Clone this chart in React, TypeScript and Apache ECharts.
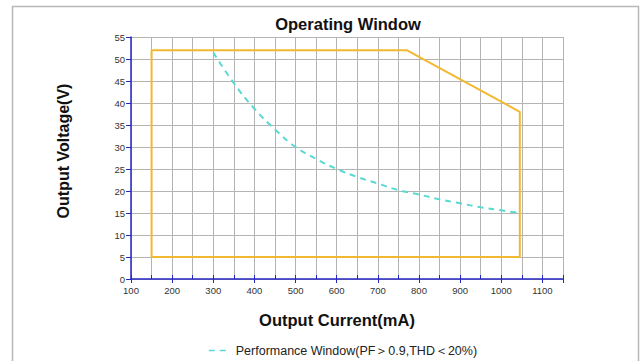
import React, { useEffect, useRef } from "react";
import * as echarts from "echarts";

const windowCurrent = [150, 150, 770, 1045, 1045, 150];
const windowVoltage = [5, 52, 52, 38, 5, 5];

const perfCurrent = [300, 350, 400, 450, 500, 550, 600, 650, 700, 750, 800, 850, 900, 950, 1000, 1045];
const perfVoltage = [51.5, 44.5, 38.7, 34, 30, 27.3, 25, 23.2, 21.7, 20.2, 19.2, 18.1, 17.2, 16.3, 15.6, 15];

const perfName = "Performance Window(PF＞0.9,THD＜20%)";

export default function App() {
  const ref = useRef<HTMLDivElement>(null);
  useEffect(() => {
    const chart = echarts.init(ref.current!, null, { renderer: "svg" });
    const axisBlue = "#2626c4";
    const gridGray = "#b4b4b4";
    const font = "Liberation Sans, Arial, sans-serif";
    chart.setOption({
      animation: false,
      backgroundColor: "#fff",
      textStyle: { fontFamily: font },
      title: {
        text: "Operating Window",
        left: 343,
        top: 10,
        textAlign: "center",
        textStyle: { fontSize: 16.5, fontWeight: "bold", color: "#111", fontFamily: font },
      },
      graphic: [
        {
          type: "rect",
          shape: { x: 12.5, y: 6.5, width: 626, height: 370 },
          style: { fill: "none", stroke: "#b8b8b8", lineWidth: 1.5 },
          silent: true,
          z: -1,
        },
        {
          type: "text",
          x: 63,
          y: 151,
          rotation: Math.PI / 2,
          style: {
            text: "Output Voltage(V)",
            fontSize: 16,
            fontWeight: "bold",
            fill: "#111",
            align: "center",
            verticalAlign: "middle",
            fontFamily: font,
          },
        },
        {
          type: "text",
          x: 337,
          y: 320,
          style: {
            text: "Output Current(mA)",
            fontSize: 16.5,
            fontWeight: "bold",
            fill: "#111",
            align: "center",
            verticalAlign: "middle",
            fontFamily: font,
          },
        },
      ],
      legend: {
        left: 203,
        top: 339,
        itemWidth: 22,
        itemHeight: 10,
        itemGap: 6,
        data: [perfName],
        itemStyle: { opacity: 0 },
        lineStyle: { width: 1.5 },
        textStyle: { fontSize: 12.5, color: "#222", fontFamily: font },
      },
      grid: { left: 131, right: 78, top: 37, bottom: 82 },
      xAxis: [
        {
          type: "value",
          min: 100,
          max: 1150,
          interval: 100,
          axisLine: { show: true, lineStyle: { color: axisBlue, width: 1.5 } },
          axisTick: { show: true, length: 4, lineStyle: { color: axisBlue } },
          axisLabel: {
            fontSize: 9.5,
            color: "#333",
            margin: 6,
            formatter: (v: number) => (v % 100 === 0 && v <= 1100 ? String(v) : ""),
          },
          splitLine: { show: false },
        },
        {
          type: "value",
          min: 100,
          max: 1150,
          interval: 50,
          position: "bottom",
          axisLine: { show: false },
          axisTick: { show: true, inside: true, length: 4, lineStyle: { color: axisBlue } },
          axisLabel: { show: false },
          splitLine: { show: true, lineStyle: { color: gridGray, width: 1 } },
        },
      ],
      yAxis: {
        type: "value",
        min: 0,
        max: 55,
        interval: 5,
        axisLine: { show: true, lineStyle: { color: axisBlue, width: 1.5 } },
        axisTick: { show: true, length: 5, lineStyle: { color: axisBlue } },
        axisLabel: { fontSize: 9.5, color: "#333", margin: 6 },
        splitLine: { show: true, lineStyle: { color: gridGray, width: 1 } },
      },
      series: [
        {
          name: "window",
          type: "line",
          xAxisIndex: 0,
          symbol: "none",
          data: windowCurrent.map((x, i) => [x, windowVoltage[i]]),
          lineStyle: { color: "#f2b830", width: 2 },
          itemStyle: { color: "#f2b830" },
          z: 3,
        },
        {
          name: perfName,
          type: "line",
          xAxisIndex: 0,
          symbol: "none",
          smooth: true,
          data: perfCurrent.map((x, i) => [x, perfVoltage[i]]),
          lineStyle: { color: "#5ad8d2", width: 2, type: [6, 5] },
          itemStyle: { color: "#5ad8d2" },
          z: 4,
        },
      ],
    });
    return () => chart.dispose();
  }, []);
  return (
    <div
      ref={ref}
      style={{ position: "fixed", left: 0, top: 0, width: 641, height: 361, background: "#fff" }}
    />
  );
}
